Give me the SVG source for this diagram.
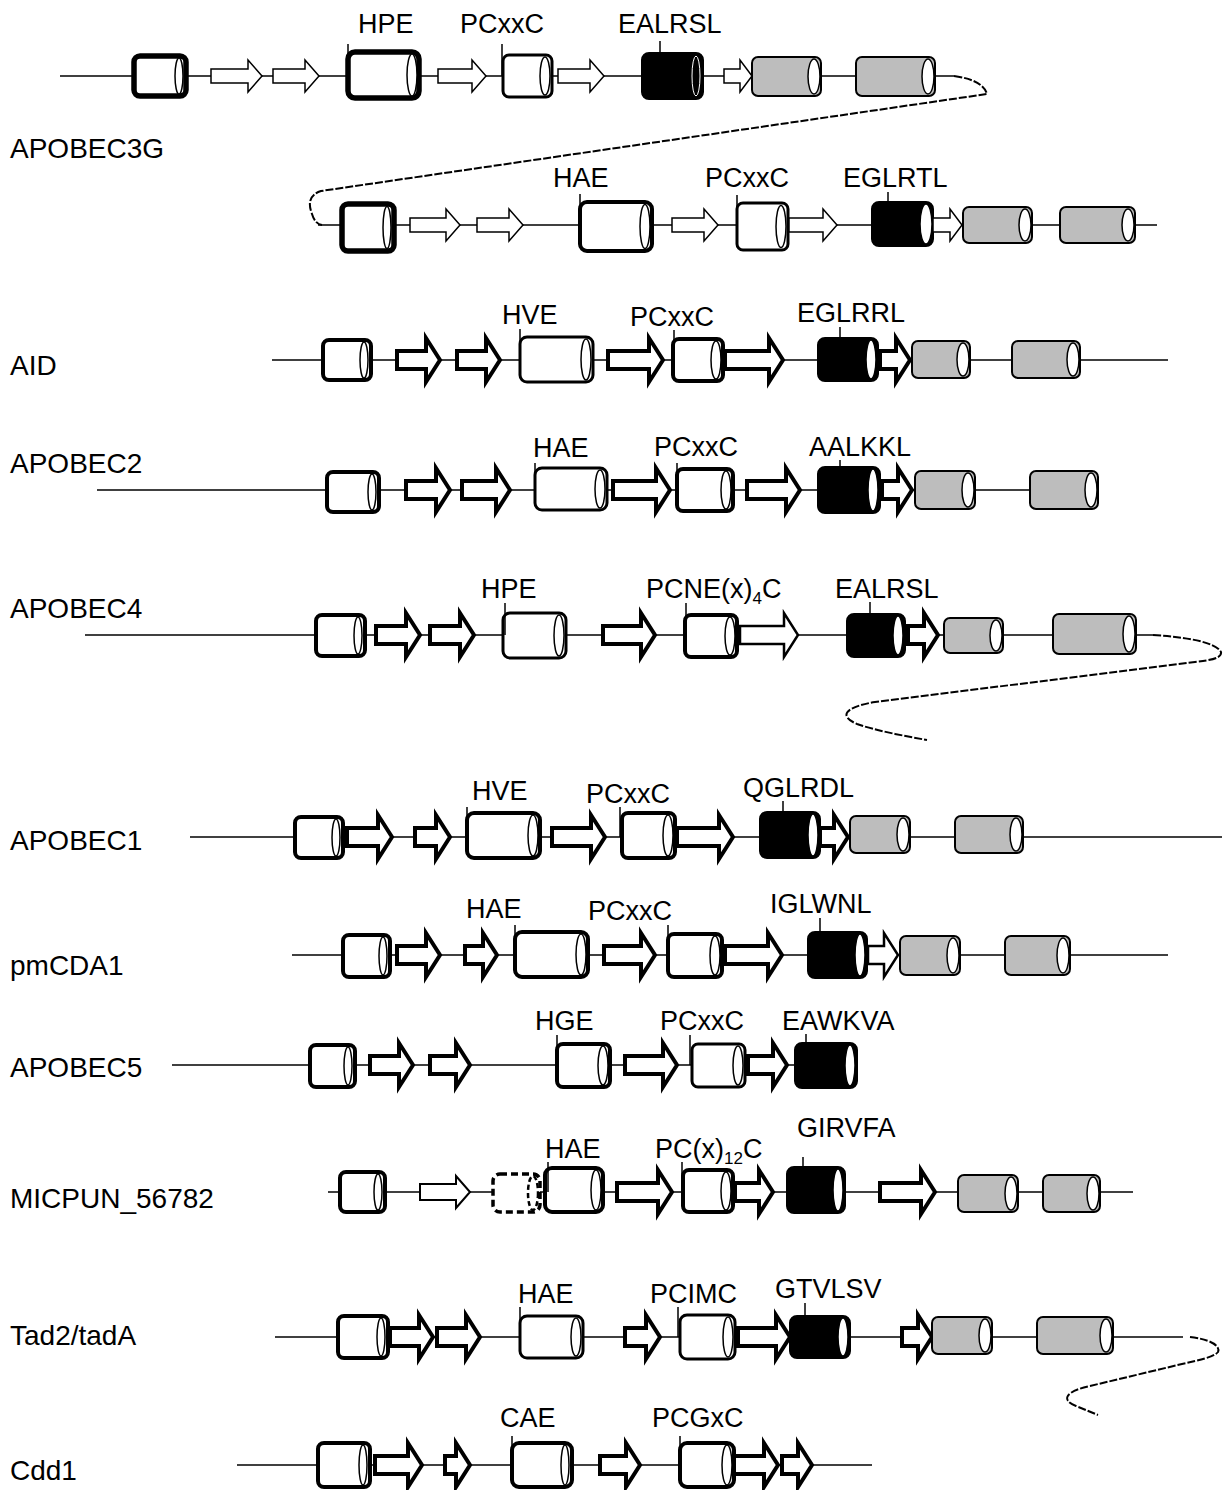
<svg xmlns="http://www.w3.org/2000/svg" width="1225" height="1490" viewBox="0 0 1225 1490">
<style>
.ln{stroke:#000;stroke-width:1.6;fill:none}
.cw{fill:#fff;stroke:#000;stroke-width:4}
.cw2{fill:#fff;stroke:#000;stroke-width:3}
.cw5{fill:#fff;stroke:#000;stroke-width:5.5}
.cg{fill:#bdbdbd;stroke:#000;stroke-width:2}
.cb{fill:#000;stroke:#000;stroke-width:2}
.e{fill:#fff;stroke:#000;stroke-width:1.5}
.eb{fill:none;stroke:#fff;stroke-width:1}
.at{fill:#fff;stroke:#000;stroke-width:1.5}
.ak{fill:#fff;stroke:#000;stroke-width:4;stroke-miterlimit:6}
.am{fill:#fff;stroke:#000;stroke-width:2.5}
.tk{stroke:#000;stroke-width:1.5}
.cu{fill:none;stroke:#000;stroke-width:2;stroke-dasharray:8 2}
.dsh{fill:#fff;stroke:#000;stroke-width:3.5;stroke-dasharray:7 4}
.dshe{fill:none;stroke:#000;stroke-width:2.5;stroke-dasharray:5 3}
text{font-family:"Liberation Sans",Arial,Helvetica,sans-serif;font-size:27px;fill:#000}
.rl{font-size:28px}
.sub{font-size:17px}
</style>

<g id="labels">
<text class="rl" x="10" y="158">APOBEC3G</text>
<text class="rl" x="10" y="375">AID</text>
<text class="rl" x="10" y="473">APOBEC2</text>
<text class="rl" x="10" y="618">APOBEC4</text>
<text class="rl" x="10" y="850">APOBEC1</text>
<text class="rl" x="10" y="975">pmCDA1</text>
<text class="rl" x="10" y="1077">APOBEC5</text>
<text class="rl" x="10" y="1208">MICPUN_56782</text>
<text class="rl" x="10" y="1345">Tad2/tadA</text>
<text class="rl" x="10" y="1480">Cdd1</text>
</g>

<g id="connectors">
<line class="ln" x1="60" y1="76" x2="954" y2="76"/>
<path class="cu" d="M954,76 Q983,80 987,94 L321,191 Q305,196 312,214 Q315,224 322,225"/>
<line class="ln" x1="318" y1="225" x2="1157" y2="225"/>
<line class="ln" x1="272" y1="360" x2="1168" y2="360"/>
<line class="ln" x1="97" y1="490" x2="1030" y2="490"/>
<line class="ln" x1="85" y1="635" x2="1153" y2="635"/>
<path class="cu" d="M1153,635 C1185,637 1216,642 1221,652 C1222,658 1212,660 1195,662 L875,702 C845,707 838,716 857,724 C877,731 905,736 927,740"/>
<line class="ln" x1="190" y1="837" x2="1222" y2="837"/>
<line class="ln" x1="292" y1="955" x2="1168" y2="955"/>
<line class="ln" x1="172" y1="1065" x2="800" y2="1065"/>
<line class="ln" x1="328" y1="1192" x2="1133" y2="1192"/>
<line class="ln" x1="275" y1="1337" x2="1183" y2="1337"/>
<path class="cu" d="M1190,1337 C1208,1339 1221,1345 1218,1352 C1214,1357 1200,1360 1182,1364 L1090,1386 C1066,1391 1060,1400 1076,1406 C1086,1410 1093,1413 1098,1415"/>
<line class="ln" x1="237" y1="1465" x2="872" y2="1465"/>
</g>

<!-- APOBEC3G upper -->
<g id="a3g-1" transform="translate(0,76)">
<g id="a3g1-c1"><rect class="cw5" x="134" y="-20" width="52" height="40" rx="6"/><ellipse class="e" cx="179" cy="0" rx="4" ry="18"/></g>
<g id="a3g1-a1"><polygon class="at" points="211,-7 248,-7 248,-16 262,0 248,16 248,7 211,7"/></g>
<g id="a3g1-a2"><polygon class="at" points="273,-7 305,-7 305,-16 319,0 305,16 305,7 273,7"/></g>
<g id="a3g1-hpe"><rect class="cw5" x="348" y="-24" width="71" height="46" rx="7"/><ellipse class="e" cx="412" cy="-1" rx="5" ry="21"/><line class="tk" x1="348" y1="-32" x2="348" y2="0"/><text x="358" y="-43">HPE</text></g>
<g id="a3g1-a3"><polygon class="at" points="438,-7 472,-7 472,-16 486,0 472,16 472,7 438,7"/></g>
<g id="a3g1-pc"><rect class="cw2" x="503" y="-21" width="49" height="42" rx="6"/><ellipse class="e" cx="545" cy="0" rx="5" ry="19"/><line class="tk" x1="502" y1="-32" x2="502" y2="0"/><text x="460" y="-43">PCxxC</text></g>
<g id="a3g1-a4"><polygon class="at" points="558,-7 590,-7 590,-16 604,0 590,16 590,7 558,7"/></g>
<g id="a3g1-b"><rect class="cb" x="642" y="-23" width="61" height="46" rx="7"/><ellipse class="eb" cx="696" cy="0" rx="4" ry="20"/><line class="tk" x1="660" y1="-35" x2="660" y2="-23"/><text x="618" y="-43">EALRSL</text></g>
<g id="a3g1-a5"><polygon class="at" points="724,-7 740,-7 740,-16 752,0 740,16 740,7 724,7"/></g>
<g id="a3g1-g1"><rect class="cg" x="752" y="-19" width="69" height="39" rx="6"/><ellipse class="e" cx="814" cy="0.5" rx="6" ry="17.5"/></g>
<g id="a3g1-g2"><rect class="cg" x="856" y="-19" width="79" height="39" rx="6"/><ellipse class="e" cx="928" cy="0.5" rx="6" ry="17.5"/></g>
</g>

<!-- APOBEC3G lower -->
<g id="a3g-2" transform="translate(0,225)">
<g id="a3g2-c1"><rect class="cw5" x="342" y="-21" width="52" height="47" rx="6"/><ellipse class="e" cx="387" cy="2.5" rx="4" ry="21"/></g>
<g id="a3g2-a1"><polygon class="at" points="410,-7 446,-7 446,-16 460,0 446,16 446,7 410,7"/></g>
<g id="a3g2-a2"><polygon class="at" points="477,-7 509,-7 509,-16 523,0 509,16 509,7 477,7"/></g>
<g id="a3g2-hae"><rect class="cw" x="580" y="-23" width="72" height="49" rx="7"/><ellipse class="e" cx="645" cy="1.5" rx="5" ry="22"/><line class="tk" x1="580" y1="-31" x2="580" y2="0"/><text x="553" y="-38">HAE</text></g>
<g id="a3g2-a3"><polygon class="at" points="672,-7 704,-7 704,-16 718,0 704,16 704,7 672,7"/></g>
<g id="a3g2-pc"><rect class="cw2" x="737" y="-22" width="51" height="47" rx="6"/><ellipse class="e" cx="781" cy="1.5" rx="5" ry="21"/><line class="tk" x1="737" y1="-30" x2="737" y2="0"/><text x="705" y="-38">PCxxC</text></g>
<g id="a3g2-a4"><polygon class="at" points="789,-7 823,-7 823,-16 837,0 823,16 823,7 789,7"/></g>
<g id="a3g2-b"><rect class="cb" x="872" y="-23" width="61" height="44" rx="7"/><ellipse class="e" cx="926" cy="-1" rx="6" ry="20"/><line class="tk" x1="888" y1="-33" x2="888" y2="-23"/><text x="843" y="-38">EGLRTL</text></g>
<g id="a3g2-a5"><polygon class="at" points="933,-7 950,-7 950,-16 962,0 950,16 950,7 933,7"/></g>
<g id="a3g2-g1"><rect class="cg" x="963" y="-18" width="69" height="36" rx="6"/><ellipse class="e" cx="1025" cy="0" rx="6" ry="16"/></g>
<g id="a3g2-g2"><rect class="cg" x="1060" y="-18" width="75" height="36" rx="6"/><ellipse class="e" cx="1128" cy="0" rx="6" ry="16"/></g>
</g>

<!-- AID -->
<g id="aid" transform="translate(0,360)">
<g id="aid-c1"><rect class="cw" x="323" y="-20" width="48" height="40" rx="6"/><ellipse class="e" cx="364" cy="0" rx="4" ry="18"/></g>
<g id="aid-a1"><polygon class="ak" points="397,-9 426,-9 426,-22 440,0 426,22 426,9 397,9"/></g>
<g id="aid-a2"><polygon class="ak" points="457,-9 486,-9 486,-22 500,0 486,22 486,9 457,9"/></g>
<g id="aid-hve"><rect class="cw2" x="520" y="-23" width="73" height="45" rx="7"/><ellipse class="e" cx="586" cy="-0.5" rx="5" ry="20.5"/><line class="tk" x1="520" y1="-31" x2="520" y2="0"/><text x="502" y="-36">HVE</text></g>
<g id="aid-a3"><polygon class="ak" points="608,-9 649,-9 649,-22 663,0 649,22 649,9 608,9"/></g>
<g id="aid-pc"><rect class="cw" x="673" y="-21" width="50" height="42" rx="6"/><ellipse class="e" cx="716" cy="0" rx="5" ry="19"/><line class="tk" x1="674" y1="-30" x2="674" y2="0"/><text x="630" y="-34">PCxxC</text></g>
<g id="aid-a4"><polygon class="ak" points="725,-9 769,-9 769,-22 783,0 769,22 769,9 725,9"/></g>
<g id="aid-b"><rect class="cb" x="818" y="-22" width="60" height="43" rx="7"/><ellipse class="e" cx="871" cy="-0.5" rx="5" ry="19.5"/><line class="tk" x1="840" y1="-33" x2="840" y2="-22"/><text x="797" y="-38">EGLRRL</text></g>
<g id="aid-a5"><polygon class="ak" points="880,-9 896,-9 896,-22 910,0 896,22 896,9 880,9"/></g>
<g id="aid-g1"><rect class="cg" x="912" y="-19" width="58" height="37" rx="6"/><ellipse class="e" cx="963" cy="-0.5" rx="6" ry="16.5"/></g>
<g id="aid-g2"><rect class="cg" x="1012" y="-19" width="68" height="37" rx="6"/><ellipse class="e" cx="1073" cy="-0.5" rx="6" ry="16.5"/></g>
</g>

<!-- APOBEC2 -->
<g id="apobec2" transform="translate(0,490)">
<g id="a2-c1"><rect class="cw" x="327" y="-18" width="52" height="40" rx="6"/><ellipse class="e" cx="372" cy="2" rx="4" ry="18"/></g>
<g id="a2-a1"><polygon class="ak" points="406,-9 436,-9 436,-22 450,0 436,22 436,9 406,9"/></g>
<g id="a2-a2"><polygon class="ak" points="462,-9 496,-9 496,-22 510,0 496,22 496,9 462,9"/></g>
<g id="a2-hae"><rect class="cw2" x="535" y="-22" width="72" height="42" rx="7"/><ellipse class="e" cx="600" cy="-1" rx="5" ry="19"/><line class="tk" x1="535" y1="-27" x2="535" y2="0"/><text x="533" y="-33">HAE</text></g>
<g id="a2-a3"><polygon class="ak" points="613,-9 656,-9 656,-22 670,0 656,22 656,9 613,9"/></g>
<g id="a2-pc"><rect class="cw" x="677" y="-21" width="56" height="42" rx="6"/><ellipse class="e" cx="726" cy="0" rx="5" ry="19"/><line class="tk" x1="677" y1="-27" x2="677" y2="0"/><text x="654" y="-34">PCxxC</text></g>
<g id="a2-a4"><polygon class="ak" points="747,-9 786,-9 786,-22 800,0 786,22 786,9 747,9"/></g>
<g id="a2-b"><rect class="cb" x="818" y="-23" width="62" height="46" rx="7"/><ellipse class="e" cx="873" cy="0" rx="5" ry="21"/><line class="tk" x1="840" y1="-30" x2="840" y2="-23"/><text x="809" y="-34">AALKKL</text></g>
<g id="a2-a5"><polygon class="ak" points="882,-9 898,-9 898,-22 912,0 898,22 898,9 882,9"/></g>
<g id="a2-g1"><rect class="cg" x="915" y="-19" width="60" height="38" rx="6"/><ellipse class="e" cx="968" cy="0" rx="6" ry="17"/></g>
<g id="a2-g2"><rect class="cg" x="1030" y="-19" width="68" height="38" rx="6"/><ellipse class="e" cx="1091" cy="0" rx="6" ry="17"/></g>
</g>

<!-- APOBEC4 -->
<g id="apobec4" transform="translate(0,635)">
<g id="a4-c1"><rect class="cw" x="316" y="-20" width="49" height="41" rx="6"/><ellipse class="e" cx="358" cy="0.5" rx="4" ry="18.5"/></g>
<g id="a4-a1"><polygon class="ak" points="376,-9 406,-9 406,-22 420,0 406,22 406,9 376,9"/></g>
<g id="a4-a2"><polygon class="ak" points="430,-9 460,-9 460,-22 474,0 460,22 460,9 430,9"/></g>
<g id="a4-hpe"><rect class="cw2" x="503" y="-22" width="63" height="45" rx="7"/><ellipse class="e" cx="559" cy="0.5" rx="5" ry="20.5"/><line class="tk" x1="505" y1="-32" x2="505" y2="0"/><text x="481" y="-37">HPE</text></g>
<g id="a4-a3"><polygon class="ak" points="603,-9 641,-9 641,-22 655,0 641,22 641,9 603,9"/></g>
<g id="a4-pc"><rect class="cw" x="685" y="-20" width="52" height="42" rx="6"/><ellipse class="e" cx="730" cy="1" rx="5" ry="19"/><line class="tk" x1="686" y1="-32" x2="686" y2="0"/><text x="646" y="-37">PCNE(x)<tspan class="sub" dy="6">4</tspan><tspan dy="-6">C</tspan></text></g>
<g id="a4-a4"><polygon class="am" points="740,-9 784,-9 784,-22 798,0 784,22 784,9 740,9"/></g>
<g id="a4-b"><rect class="cb" x="847" y="-21" width="58" height="43" rx="7"/><ellipse class="e" cx="898" cy="0.5" rx="5" ry="19.5"/><line class="tk" x1="870" y1="-33" x2="870" y2="-21"/><text x="835" y="-37">EALRSL</text></g>
<g id="a4-a5"><polygon class="ak" points="908,-9 924,-9 924,-22 938,0 924,22 924,9 908,9"/></g>
<g id="a4-g1"><rect class="cg" x="944" y="-17" width="59" height="35" rx="6"/><ellipse class="e" cx="996" cy="0.5" rx="6" ry="15.5"/></g>
<g id="a4-g2"><rect class="cg" x="1053" y="-21" width="83" height="40" rx="6"/><ellipse class="e" cx="1129" cy="-1" rx="6" ry="18"/></g>
</g>

<!-- APOBEC1 -->
<g id="apobec1" transform="translate(0,837)">
<g id="a1-c1"><rect class="cw" x="295" y="-20" width="48" height="41" rx="6"/><ellipse class="e" cx="336" cy="0.5" rx="4" ry="18.5"/></g>
<g id="a1-a1"><polygon class="ak" points="347,-9 378,-9 378,-22 392,0 378,22 378,9 347,9"/></g>
<g id="a1-a2"><polygon class="ak" points="415,-9 436,-9 436,-22 450,0 436,22 436,9 415,9"/></g>
<g id="a1-hve"><rect class="cw" x="467" y="-24" width="73" height="45" rx="7"/><ellipse class="e" cx="533" cy="-1.5" rx="5" ry="20.5"/><line class="tk" x1="467" y1="-30" x2="467" y2="0"/><text x="472" y="-37">HVE</text></g>
<g id="a1-a3"><polygon class="ak" points="552,-9 591,-9 591,-22 605,0 591,22 591,9 552,9"/></g>
<g id="a1-pc"><rect class="cw" x="622" y="-24" width="53" height="45" rx="6"/><ellipse class="e" cx="668" cy="-1.5" rx="5" ry="20.5"/><line class="tk" x1="620" y1="-30" x2="620" y2="0"/><text x="586" y="-34">PCxxC</text></g>
<g id="a1-a4"><polygon class="ak" points="677,-9 719,-9 719,-22 733,0 719,22 719,9 677,9"/></g>
<g id="a1-b"><rect class="cb" x="760" y="-25" width="60" height="46" rx="7"/><ellipse class="e" cx="813" cy="-2" rx="5" ry="21"/><line class="tk" x1="783" y1="-36" x2="783" y2="-25"/><text x="743" y="-40">QGLRDL</text></g>
<g id="a1-a5"><polygon class="ak" points="820,-9 834,-9 834,-22 848,0 834,22 834,9 820,9"/></g>
<g id="a1-g1"><rect class="cg" x="850" y="-21" width="60" height="37" rx="6"/><ellipse class="e" cx="903" cy="-2.5" rx="6" ry="16.5"/></g>
<g id="a1-g2"><rect class="cg" x="955" y="-21" width="68" height="37" rx="6"/><ellipse class="e" cx="1016" cy="-2.5" rx="6" ry="16.5"/></g>
</g>

<!-- pmCDA1 -->
<g id="pmcda1" transform="translate(0,955)">
<g id="pm-c1"><rect class="cw" x="343" y="-20" width="47" height="42" rx="6"/><ellipse class="e" cx="383" cy="1" rx="4" ry="19"/></g>
<g id="pm-a1"><polygon class="ak" points="397,-9 426,-9 426,-22 440,0 426,22 426,9 397,9"/></g>
<g id="pm-a2"><polygon class="ak" points="465,-9 483,-9 483,-22 497,0 483,22 483,9 465,9"/></g>
<g id="pm-hae"><rect class="cw" x="515" y="-23" width="73" height="45" rx="7"/><ellipse class="e" cx="581" cy="-0.5" rx="5" ry="20.5"/><line class="tk" x1="515" y1="-30" x2="515" y2="0"/><text x="466" y="-37">HAE</text></g>
<g id="pm-a3"><polygon class="ak" points="604,-9 641,-9 641,-22 655,0 641,22 641,9 604,9"/></g>
<g id="pm-pc"><rect class="cw" x="668" y="-21" width="54" height="43" rx="6"/><ellipse class="e" cx="715" cy="0.5" rx="5" ry="19.5"/><line class="tk" x1="668" y1="-30" x2="668" y2="0"/><text x="588" y="-35">PCxxC</text></g>
<g id="pm-a4"><polygon class="ak" points="725,-9 768,-9 768,-22 782,0 768,22 768,9 725,9"/></g>
<g id="pm-b"><rect class="cb" x="808" y="-23" width="59" height="46" rx="7"/><ellipse class="e" cx="860" cy="0" rx="5" ry="21"/><line class="tk" x1="820" y1="-37" x2="820" y2="-23"/><text x="770" y="-42">IGLWNL</text></g>
<g id="pm-a5"><polygon class="am" points="868,-9 884,-9 884,-22 898,0 884,22 884,9 868,9"/></g>
<g id="pm-g1"><rect class="cg" x="900" y="-19" width="60" height="39" rx="6"/><ellipse class="e" cx="953" cy="0.5" rx="6" ry="17.5"/></g>
<g id="pm-g2"><rect class="cg" x="1005" y="-19" width="65" height="39" rx="6"/><ellipse class="e" cx="1063" cy="0.5" rx="6" ry="17.5"/></g>
</g>

<!-- APOBEC5 -->
<g id="apobec5" transform="translate(0,1065)">
<g id="a5-c1"><rect class="cw" x="310" y="-20" width="45" height="42" rx="6"/><ellipse class="e" cx="348" cy="1" rx="4" ry="19"/></g>
<g id="a5-a1"><polygon class="ak" points="370,-9 399,-9 399,-22 413,0 399,22 399,9 370,9"/></g>
<g id="a5-a2"><polygon class="ak" points="430,-9 456,-9 456,-22 470,0 456,22 456,9 430,9"/></g>
<g id="a5-hge"><rect class="cw" x="557" y="-21" width="53" height="43" rx="6"/><ellipse class="e" cx="603" cy="0.5" rx="5" ry="19.5"/><line class="tk" x1="557" y1="-30" x2="557" y2="0"/><text x="535" y="-35">HGE</text></g>
<g id="a5-a3"><polygon class="ak" points="625,-9 663,-9 663,-22 677,0 663,22 663,9 625,9"/></g>
<g id="a5-pc"><rect class="cw2" x="692" y="-21" width="53" height="43" rx="6"/><ellipse class="e" cx="738" cy="0.5" rx="5" ry="19.5"/><line class="tk" x1="690" y1="-30" x2="690" y2="0"/><text x="660" y="-35">PCxxC</text></g>
<g id="a5-a4"><polygon class="ak" points="748,-9 773,-9 773,-22 787,0 773,22 773,9 748,9"/></g>
<g id="a5-b"><rect class="cb" x="795" y="-22" width="62" height="45" rx="7"/><ellipse class="e" cx="850" cy="0.5" rx="5" ry="20.5"/><line class="tk" x1="806" y1="-31" x2="806" y2="-22"/><text x="782" y="-35">EAWKVA</text></g>
</g>

<!-- MICPUN_56782 -->
<g id="micpun" transform="translate(0,1192)">
<g id="mp-c1"><rect class="cw" x="340" y="-20" width="45" height="40" rx="6"/><ellipse class="e" cx="378" cy="0" rx="4" ry="18"/></g>
<g id="mp-a1"><polygon class="at" style="stroke-width:2" points="420,-8 456,-8 456,-16 470,0 456,16 456,8 420,8"/></g>
<g id="mp-d"><rect class="dsh" x="493" y="-18" width="47" height="38" rx="7"/><ellipse class="dshe" cx="533" cy="1" rx="5" ry="17"/></g>
<g id="mp-hae"><rect class="cw" x="545" y="-24" width="58" height="44" rx="7"/><ellipse class="e" cx="596" cy="-2" rx="5" ry="20"/><line class="tk" x1="548" y1="-30" x2="548" y2="0"/><text x="545" y="-34">HAE</text></g>
<g id="mp-a2"><polygon class="ak" points="617,-9 658,-9 658,-22 672,0 658,22 658,9 617,9"/></g>
<g id="mp-pc"><rect class="cw" x="683" y="-22" width="50" height="42" rx="6"/><ellipse class="e" cx="726" cy="-1" rx="5" ry="19"/><line class="tk" x1="682" y1="-30" x2="682" y2="-2"/><text x="655" y="-34">PC(x)<tspan class="sub" dy="6">12</tspan><tspan dy="-6">C</tspan></text></g>
<g id="mp-a3"><polygon class="ak" points="735,-9 759,-9 759,-22 773,0 759,22 759,9 735,9"/></g>
<g id="mp-b"><rect class="cb" x="787" y="-25" width="58" height="46" rx="7"/><ellipse class="e" cx="838" cy="-2" rx="5" ry="21"/><line class="tk" x1="803" y1="-35" x2="803" y2="-25"/><text x="797" y="-55">GIRVFA</text></g>
<g id="mp-a4"><polygon class="ak" points="880,-9 921,-9 921,-22 935,0 921,22 921,9 880,9"/></g>
<g id="mp-g1"><rect class="cg" x="958" y="-17" width="60" height="37" rx="6"/><ellipse class="e" cx="1011" cy="1.5" rx="6" ry="16.5"/></g>
<g id="mp-g2"><rect class="cg" x="1043" y="-17" width="57" height="37" rx="6"/><ellipse class="e" cx="1093" cy="1.5" rx="6" ry="16.5"/></g>
</g>

<!-- Tad2/tadA -->
<g id="tad2" transform="translate(0,1337)">
<g id="t-c1"><rect class="cw" x="338" y="-21" width="50" height="42" rx="6"/><ellipse class="e" cx="381" cy="0" rx="4" ry="19"/></g>
<g id="t-a1"><polygon class="ak" points="390,-9 419,-9 419,-22 433,0 419,22 419,9 390,9"/></g>
<g id="t-a2"><polygon class="ak" points="437,-9 466,-9 466,-22 480,0 466,22 466,9 437,9"/></g>
<g id="t-hae"><rect class="cw2" x="520" y="-21" width="63" height="42" rx="7"/><ellipse class="e" cx="576" cy="0" rx="5" ry="19"/><line class="tk" x1="520" y1="-30" x2="520" y2="0"/><text x="518" y="-34">HAE</text></g>
<g id="t-a3"><polygon class="ak" points="625,-9 646,-9 646,-22 660,0 646,22 646,9 625,9"/></g>
<g id="t-pc"><rect class="cw2" x="680" y="-22" width="55" height="44" rx="7"/><ellipse class="e" cx="728" cy="0" rx="5" ry="20"/><line class="tk" x1="678" y1="-30" x2="678" y2="0"/><text x="650" y="-34">PCIMC</text></g>
<g id="t-a4"><polygon class="ak" points="738,-9 776,-9 776,-22 790,0 776,22 776,9 738,9"/></g>
<g id="t-b"><rect class="cb" x="790" y="-21" width="60" height="42" rx="7"/><ellipse class="e" cx="843" cy="0" rx="5" ry="19"/><line class="tk" x1="805" y1="-34" x2="805" y2="-21"/><text x="775" y="-39">GTVLSV</text></g>
<g id="t-a5"><polygon class="ak" points="902,-9 918,-9 918,-22 932,0 918,22 918,9 902,9"/></g>
<g id="t-g1"><rect class="cg" x="932" y="-20" width="60" height="37" rx="6"/><ellipse class="e" cx="985" cy="-1.5" rx="6" ry="16.5"/></g>
<g id="t-g2"><rect class="cg" x="1037" y="-20" width="76" height="37" rx="6"/><ellipse class="e" cx="1106" cy="-1.5" rx="6" ry="16.5"/></g>
</g>

<!-- Cdd1 -->
<g id="cdd1" transform="translate(0,1465)">
<g id="cd-c1"><rect class="cw" x="318" y="-22" width="52" height="44" rx="6"/><ellipse class="e" cx="363" cy="0" rx="4" ry="20"/></g>
<g id="cd-a1"><polygon class="ak" points="375,-9 408,-9 408,-22 422,0 408,22 408,9 375,9"/></g>
<g id="cd-a2"><polygon class="ak" points="445,-9 456,-9 456,-22 470,0 456,22 456,9 445,9"/></g>
<g id="cd-cae"><rect class="cw" x="512" y="-22" width="60" height="44" rx="7"/><ellipse class="e" cx="565" cy="0" rx="4" ry="20"/><line class="tk" x1="512" y1="-29" x2="512" y2="0"/><text x="500" y="-38">CAE</text></g>
<g id="cd-a3"><polygon class="ak" points="600,-9 626,-9 626,-22 640,0 626,22 626,9 600,9"/></g>
<g id="cd-pc"><rect class="cw" x="680" y="-22" width="54" height="44" rx="7"/><ellipse class="e" cx="727" cy="0" rx="5" ry="20"/><line class="tk" x1="680" y1="-29" x2="680" y2="0"/><text x="652" y="-38">PCGxC</text></g>
<g id="cd-a4"><polygon class="ak" points="734,-9 764,-9 764,-22 778,0 764,22 764,9 734,9"/></g>
<g id="cd-a5"><polygon class="ak" points="782,-9 798,-9 798,-22 812,0 798,22 798,9 782,9"/></g>
</g>
</svg>
